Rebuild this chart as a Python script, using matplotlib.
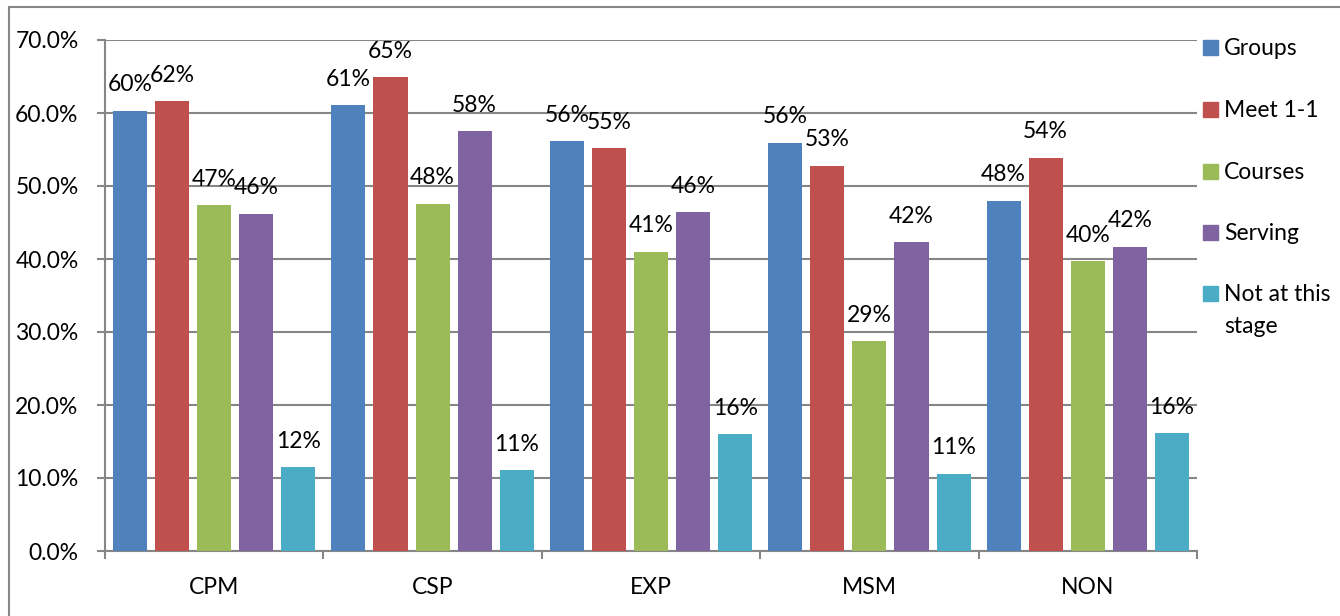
import matplotlib
matplotlib.use('Agg')
import matplotlib.pyplot as plt
import numpy as np
from matplotlib.patches import Rectangle
from matplotlib.ticker import FuncFormatter, FixedLocator

categories = ['CPM', 'CSP', 'EXP', 'MSM', 'NON']
series = ['Groups', 'Meet 1-1', 'Courses', 'Serving', 'Not at this\nstage']
groups = [60.3, 61.1, 56.1, 55.9, 48.0]
meet = [61.6, 64.9, 55.2, 52.8, 53.9]
courses = [47.4, 47.6, 41.0, 28.7, 39.7]
serving = [46.2, 57.5, 46.4, 42.3, 41.7]
not_stage = [11.5, 11.1, 16.0, 10.6, 16.1]
colors = ['#4F81BD', '#C0504D', '#9BBB59', '#8064A2', '#4BACC6']

values = [groups, meet, courses, serving, not_stage]
grid_c = '#868686'
fs = 16.5
plt.rcParams['font.family'] = ['Lato', 'DejaVu Sans']

W, H = 1340, 616
fig = plt.figure(figsize=(W / 100, H / 100), dpi=100)
ax = fig.add_axes([105 / W, 1 - 551 / H, (1197 - 105) / W, (551 - 40) / H])

# outer chart frame
fig.patches.append(Rectangle((9 / W, -0.1), 1.2, 1.1 - 7 / H, transform=fig.transFigure,
                             fill=False, edgecolor=grid_c, lw=1.5))

x = np.arange(len(categories))
step, width = 0.1927, 0.156
for j, (vals, col) in enumerate(zip(values, colors)):
    pos = x + (j - 2) * step
    ax.bar(pos, vals, width, color=col, zorder=3)
    for px, v in zip(pos, vals):
        ax.annotate(f'{v:.0f}%', (px, v), xytext=(0, 14), textcoords='offset points',
                    ha='center', va='baseline', fontsize=fs, zorder=4)

ax.set_xlim(-0.5, 4.5)
ax.set_ylim(0, 70)
ax.set_yticks(np.arange(0, 71, 10))
ax.yaxis.set_major_formatter(FuncFormatter(lambda v, p: f'{v:.1f}%'))
ax.grid(axis='y', color=grid_c, lw=1.5, zorder=0)
ax.set_xticks(x)
ax.set_xticklabels(categories)
ax.xaxis.set_minor_locator(FixedLocator(np.arange(-0.5, 5, 1)))
ax.tick_params(axis='x', which='major', length=0, pad=19, labelsize=fs)
ax.tick_params(axis='x', which='minor', length=6, width=1.5, color=grid_c, direction='out')
ax.tick_params(axis='y', length=6, width=1.5, color=grid_c, pad=13, labelsize=fs)
for s in ['top', 'right']:
    ax.spines[s].set_visible(False)
for s in ['left', 'bottom']:
    ax.spines[s].set_color(grid_c)
    ax.spines[s].set_linewidth(1.5)

# legend drawn by hand so the marker sits on the first text line
ys = [47, 109, 171, 232, 293]
for name, col, yc in zip(series, colors, ys):
    fig.patches.append(Rectangle((1203 / W, 1 - (yc + 7.5) / H), 15 / W, 15 / H,
                                 transform=fig.transFigure, color=col))
    for k, line in enumerate(name.split('\n')):
        fig.text(1224 / W, 1 - (yc + 8 + 32 * k) / H, line, fontsize=fs,
                 ha='left', va='baseline')

fig.savefig('out.png', dpi=100)
